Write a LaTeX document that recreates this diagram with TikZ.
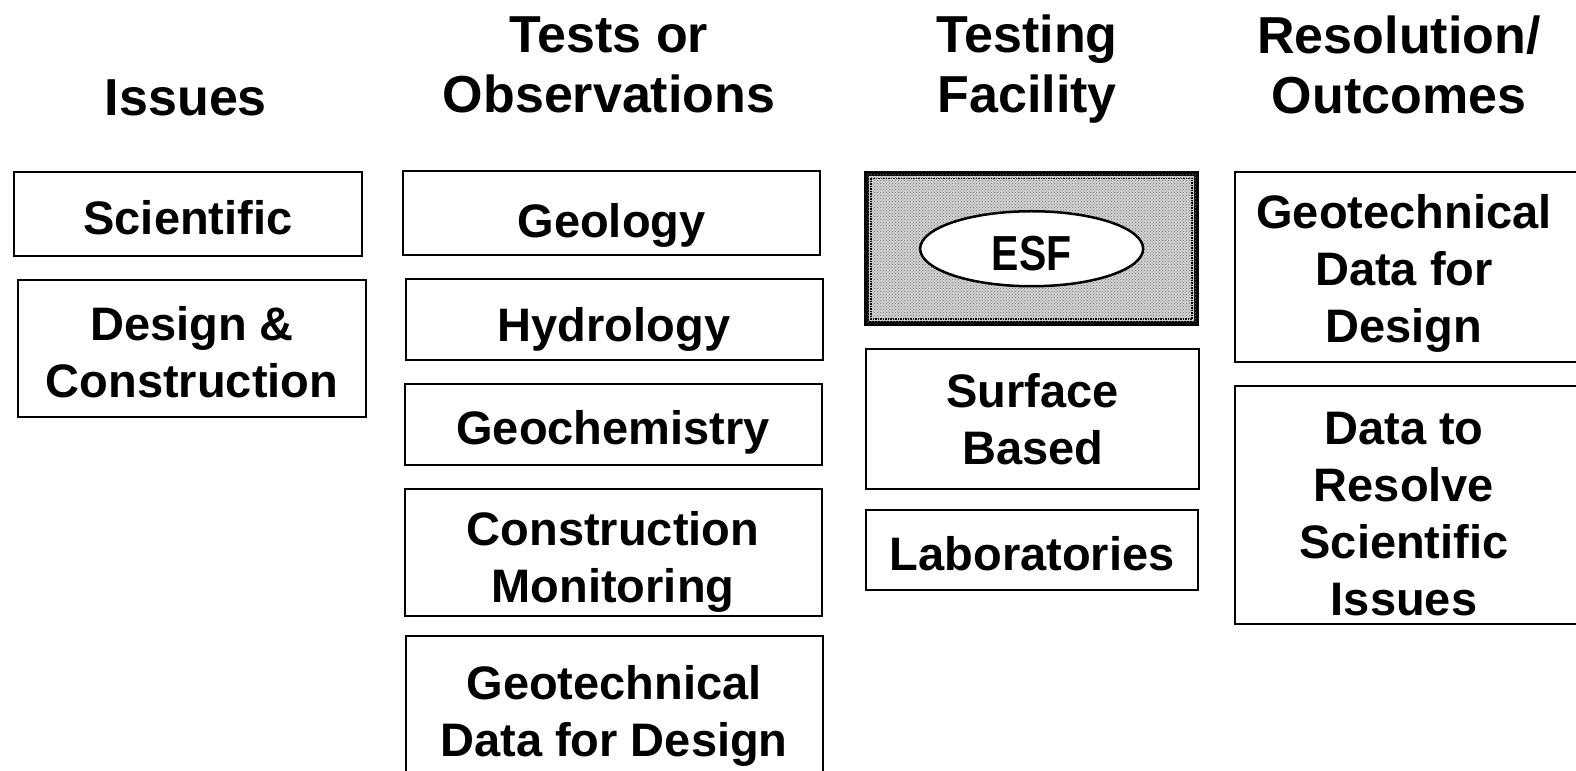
\documentclass[tikz,border=0pt]{standalone}
\usepackage{fontspec}
\setmainfont{Liberation Sans}
\usepackage{tikz}
\usetikzlibrary{positioning,patterns,shapes.geometric}

\newcommand{\drop}[1]{\rule{0pt}{#1pt}}% pushes the text of a box down

\begin{document}
\begin{tikzpicture}[x=1.005pt,y=-1.005pt,
	box/.style={rectangle,draw,line width=2pt,align=center,inner sep=2pt,
		font=\fontsize{47}{57}\selectfont\bfseries},
	openbox/.style={rectangle,align=center,inner sep=2pt,
		font=\fontsize{47}{57}\selectfont\bfseries},
	head/.style={align=center,font=\fontsize{52}{60}\selectfont\bfseries}]
	\useasboundingbox (0,0) rectangle (1568.16,766.17);
	\clip (0,0) rectangle (1568.16,766.17);
	
	% titles
	\node[head] (head1) at (185,97) {Issues};
	\node[head] (head2) at (606,65) {Tests or\\Observations};
	\node[head] (head3) at (1022,69) {Testing\\Facility};
	\node[head] (head4) at (1392,65) {Resolution/\\Outcomes};
	
	% issues
	\node[box,minimum width=348pt,minimum height=84pt] (iss1) at (187,213) {\drop{40.5}Scientific};
	\node[box,minimum width=348pt,minimum height=137pt] (iss2) at (191,346.5) {\drop{42.5}Design \&\\Construction};
	
	% tests or observations
	\foreach \i/\x/\y/\h/\d/\name in {1/608.5/212/84/58/Geology,2/611/317.5/81/54/Hydrology,
		3/610/422.5/81/50/Geochemistry,4/610/549.5/127/54/{Construction\\Monitoring},
		5/611/708/152/42/{Geotechnical\\Data for Design}}{
		\node[box,minimum width=417pt,minimum height=\h pt] (obs\i) at (\x,\y) {\drop{\d}\name};
	}
	
	% testing facility
	\node[box,line width=5pt,minimum width=330pt,minimum height=150pt,fill=gray!35,
		postaction={pattern=crosshatch dots,pattern color=black!55}] (fac1) at (1026.5,247.5) {};
	\draw[densely dotted,line width=1.5pt] ([shift={(7,7)}]fac1.north west) rectangle ([shift={(-7,-7)}]fac1.south east);
	\node[ellipse,draw,line width=2.5pt,fill=white,minimum width=223pt,minimum height=75pt,
		inner sep=0pt,font=\fontsize{41}{50}\selectfont\bfseries] (esf) at (fac1.center) {\scalebox{1}[1.2]{\drop{36}ESF}};
	\node[box,minimum width=333pt,minimum height=140pt] (fac2) at (1027.5,417) {Surface\\Based};
	\node[box,minimum width=332pt,minimum height=80pt] (fac3) at (1027,547) {\drop{42.5}Laboratories};
	
	% resolution / outcomes (cut at the right edge)
	\node[openbox,minimum width=338pt,minimum height=189pt] (res1) at (1397,265.5) {\drop{46.5}Geotechnical\\Data for\\Design};
	\node[openbox,minimum width=338pt,minimum height=237pt] (res2) at (1397,502.5) {\drop{50.5}Data to\\Resolve\\Scientific\\Issues};
	\foreach \r in {res1,res2}{
		\draw[line width=2pt] ([xshift=40pt]\r.north east) -- (\r.north west) -- (\r.south west) -- ([xshift=40pt]\r.south east);
	}
\end{tikzpicture}
\end{document}
